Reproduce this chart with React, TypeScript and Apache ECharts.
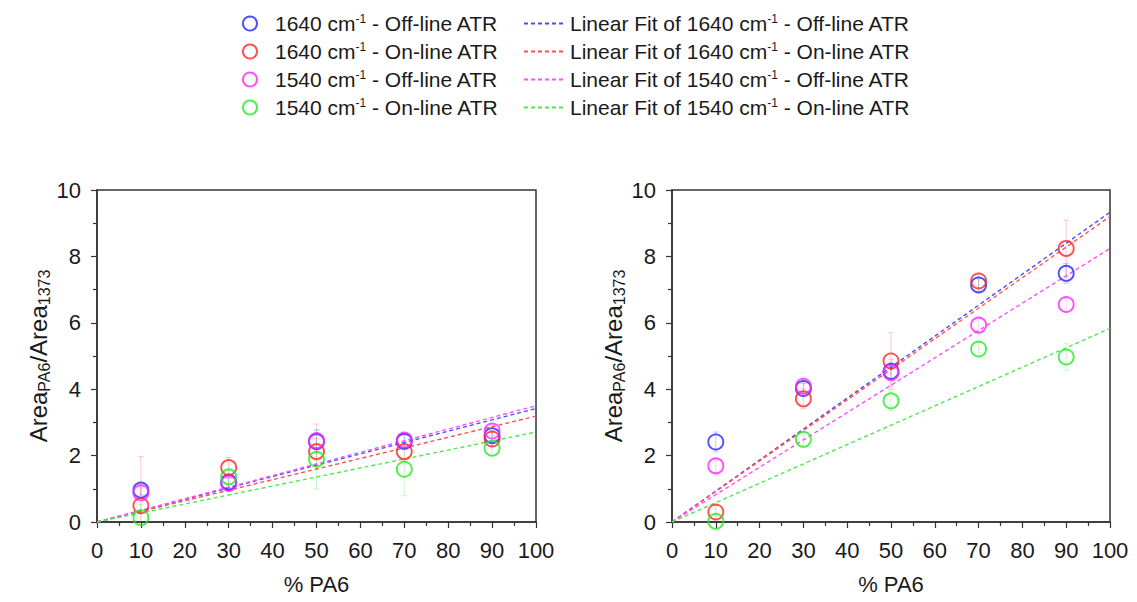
import React, { useEffect, useRef } from 'react';
import * as echarts from 'echarts';

// ---------- data ----------
const xValues = [10, 30, 50, 70, 90];
const fitX = [0, 100];
const xTickLabels = ['0', '10', '20', '30', '40', '50', '60', '70', '80', '90', '100'];

const seriesNames = [
  '1640 cm-1 - Off-line ATR',
  '1640 cm-1 - On-line ATR',
  '1540 cm-1 - Off-line ATR',
  '1540 cm-1 - On-line ATR',
];
const fitNames = seriesNames.map((n) => 'Linear Fit of ' + n);

// left panel
const left1640Off = [0.96, 1.2, 2.42, 2.43, 2.6];
const left1640On = [0.49, 1.64, 2.12, 2.12, 2.5];
const left1540Off = [0.88, 1.16, 2.45, 2.47, 2.74];
const left1540On = [0.13, 1.36, 1.89, 1.59, 2.22];
const leftErr1640Off = [0.15, 0.15, 0.35, 0.2, 0.15];
const leftErr1640On = [1.48, 0.3, 0.4, 0.3, 0.2];
const leftErr1540Off = [0.15, 0.15, 0.5, 0.2, 0.15];
const leftErr1540On = [0.4, 0.2, 0.9, 0.8, 0.2];
const leftFit1640Off = [0, 3.42];
const leftFit1640On = [0, 3.19];
const leftFit1540Off = [0, 3.5];
const leftFit1540On = [0, 2.71];

// right panel
const right1640Off = [2.41, 4.02, 4.54, 7.14, 7.49];
const right1640On = [0.3, 3.71, 4.85, 7.26, 8.24];
const right1540Off = [1.69, 4.09, 4.5, 5.93, 6.55];
const right1540On = [0.02, 2.49, 3.65, 5.21, 4.97];
const rightErr1640Off = [0.3, 0.15, 0.25, 0.2, 0.3];
const rightErr1640On = [0.2, 0.3, 0.85, 0.2, 0.85];
const rightErr1540Off = [0.2, 0.2, 0.4, 0.2, 0.2];
const rightErr1540On = [0.1, 0.2, 0.3, 0.2, 0.4];
const rightFit1640Off = [0, 9.33];
const rightFit1640On = [0, 9.2];
const rightFit1540Off = [0, 8.24];
const rightFit1540On = [0, 5.83];

const pointColors = ['#2424ff', '#ff2424', '#ff24ff', '#24e824'];
const fitColors = ['#4a4aff', '#ff5050', '#ff50ff', '#50e850'];

const FONT = 'Liberation Sans, Arial, sans-serif';
const TXT = '#1a1a1a';

function App() {
  const ref = useRef<HTMLDivElement>(null);
  useEffect(() => {
    if (!ref.current) return;
    const chart = echarts.init(ref.current, undefined, { renderer: 'svg' });

    const panels = [
      {
        vals: [left1640Off, left1640On, left1540Off, left1540On],
        errs: [leftErr1640Off, leftErr1640On, leftErr1540Off, leftErr1540On],
        fits: [leftFit1640Off, leftFit1640On, leftFit1540Off, leftFit1540On],
      },
      {
        vals: [right1640Off, right1640On, right1540Off, right1540On],
        errs: [rightErr1640Off, rightErr1640On, rightErr1540Off, rightErr1540On],
        fits: [rightFit1640Off, rightFit1640On, rightFit1540Off, rightFit1540On],
      },
    ];

    const series: any[] = [];
    panels.forEach((p, pi) => {
      // points
      p.vals.forEach((v, si) => {
        series.push({
          type: 'scatter',
          name: seriesNames[si],
          xAxisIndex: pi,
          yAxisIndex: pi,
          symbol: 'circle',
          symbolSize: 15,
          z: 3,
          data: xValues.map((x, i) => [x, v[i]]),
          itemStyle: { color: 'rgba(0,0,0,0)', borderColor: pointColors[si], borderWidth: 1.9 },
        });
      });
      // fits
      p.fits.forEach((f, si) => {
        series.push({
          type: 'line',
          name: fitNames[si],
          xAxisIndex: pi,
          yAxisIndex: pi,
          symbol: 'none',
          z: 2,
          data: fitX.map((x, i) => [x, f[i]]),
          lineStyle: { color: fitColors[si], width: 1.4, type: [4, 3] },
          itemStyle: { color: 'rgba(0,0,0,0)', borderWidth: 0 },
        });
      });
      // error bars
      p.vals.forEach((v, si) => {
        series.push({
          type: 'custom',
          name: 'err-' + pi + '-' + si,
          xAxisIndex: pi,
          yAxisIndex: pi,
          clip: true,
          z: 1,
          data: xValues.map((x, i) => [x, v[i], p.errs[si][i]]),
          renderItem: (params: any, api: any) => {
            const x = api.value(0);
            const y = api.value(1);
            const e = api.value(2);
            const t = api.coord([x, y + e]);
            const b = api.coord([x, y - e]);
            const st = { stroke: fitColors[si], lineWidth: 1, opacity: 0.3 };
            return {
              type: 'group',
              children: [
                { type: 'line', shape: { x1: t[0], y1: t[1], x2: b[0], y2: b[1] }, style: st },
                { type: 'line', shape: { x1: t[0] - 3, y1: t[1], x2: t[0] + 3, y2: t[1] }, style: st },
                { type: 'line', shape: { x1: b[0] - 3, y1: b[1], x2: b[0] + 3, y2: b[1] }, style: st },
              ],
            };
          },
        });
      });
    });

    const rich = {
      sp: { width: 13 },
      n: { fontSize: 21, fontFamily: FONT, color: TXT, lineHeight: 21 },
      sup: { fontSize: 12, fontFamily: FONT, color: TXT, lineHeight: 12, verticalAlign: 'top' },
    };
    const fmt = (spacer: boolean) => (name: string) => {
      const m = name.match(/^(.*cm)-1(.*)$/);
      if (!m) return `{n|${name}}`;
      return `${spacer ? '{sp|}' : ''}{n|${m[1]}}{sup|-1}{n|${m[2]}}`;
    };

    const xAxisBase = (gi: number) => ({
      type: 'value',
      gridIndex: gi,
      min: 0,
      max: 100,
      interval: 10,
      name: '% PA6',
      nameLocation: 'middle',
      nameGap: 51,
      nameTextStyle: { fontSize: 22, fontFamily: FONT, color: TXT },
      axisLine: { show: true, onZero: false, lineStyle: { color: '#333', width: 1.5 } },
      axisTick: { show: true, inside: false, length: 6, lineStyle: { color: '#333', width: 1.2 } },
      minorTick: { show: true, splitNumber: 2, length: 4, lineStyle: { color: '#333', width: 1.2 } },
      splitLine: { show: false },
      axisLabel: {
        fontSize: 22,
        fontFamily: FONT,
        color: TXT,
        margin: 17,
        formatter: (v: number) => xTickLabels[Math.round(v / 10)] ?? String(v),
      },
    });
    const yAxisBase = (gi: number) => ({
      type: 'value',
      gridIndex: gi,
      min: 0,
      max: 10,
      interval: 2,
      name: '{a|Area}{s|PA6}{a|/Area}{s|1373}',
      nameLocation: 'middle',
      nameGap: 44,
      nameRotate: 90,
      nameTextStyle: {
        rich: {
          a: { fontSize: 24, fontFamily: FONT, color: TXT, lineHeight: 28 },
          s: { fontSize: 16, fontFamily: FONT, color: TXT, lineHeight: 10, verticalAlign: 'bottom' },
        },
      },
      axisLine: { show: true, onZero: false, lineStyle: { color: '#333', width: 1.5 } },
      axisTick: { show: true, inside: false, length: 6, lineStyle: { color: '#333', width: 1.2 } },
      minorTick: { show: true, splitNumber: 2, length: 4, lineStyle: { color: '#333', width: 1.2 } },
      splitLine: { show: false },
      axisLabel: { fontSize: 22, fontFamily: FONT, color: TXT, margin: 16 },
    });

    chart.setOption({
      animation: false,
      backgroundColor: '#ffffff',
      legend: [
        {
          data: seriesNames,
          orient: 'vertical',
          left: 237,
          top: 8,
          itemWidth: 14,
          itemHeight: 14,
          itemGap: 7,
          formatter: fmt(true),
          textStyle: { rich },
          selectedMode: false,
        },
        {
          data: fitNames,
          orient: 'vertical',
          left: 518,
          top: 8,
          itemWidth: 41,
          itemHeight: 14,
          itemGap: 7,
          itemStyle: { opacity: 0 },
          formatter: fmt(false),
          textStyle: { rich },
          selectedMode: false,
        },
      ],
      grid: [
        { left: 97, top: 190, width: 439, height: 332, show: true, borderColor: '#333', borderWidth: 1.5, backgroundColor: 'transparent' },
        { left: 672, top: 190, width: 438, height: 332, show: true, borderColor: '#333', borderWidth: 1.5, backgroundColor: 'transparent' },
      ],
      xAxis: [xAxisBase(0), xAxisBase(1)],
      yAxis: [yAxisBase(0), yAxisBase(1)],
      series,
    });

    return () => chart.dispose();
  }, []);

  return <div ref={ref} style={{ width: 1137, height: 602, margin: -8 }} />;
}

export default App;
